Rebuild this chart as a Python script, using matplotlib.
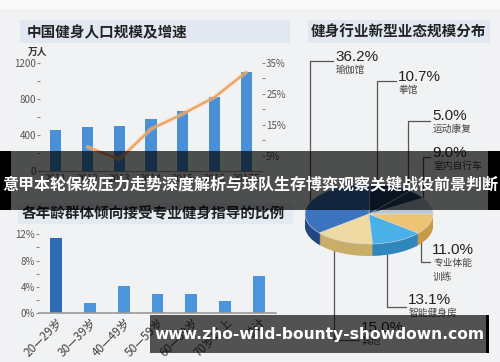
import matplotlib
matplotlib.use("Agg")
import matplotlib.pyplot as plt
import numpy as np
from matplotlib.patches import Rectangle
from matplotlib.ticker import FixedLocator

W, H = 500, 362
CJK = ['Noto Sans CJK SC', 'DejaVu Sans']
plt.rcParams['font.family'] = CJK

# ---------------- data ----------------
years = ['2011', '2012', '2013', '2014', '2015', '2016', '2017E']
population = [455, 485, 503, 574, 670, 826, 1100]          # 万人
growth_years = ['2012', '2013', '2014', '2015', '2016', '2017E']
growth = [7.8, 3.8, 13.6, 18.5, 23.9, 32.0]                # %

pie_labels = ['室内自行车', '运动康复', '拳馆', '瑜伽馆', '其他', '智能健身房', '专业体能\n训练']
pie_values = [9.0, 5.0, 10.7, 36.2, 15.0, 13.1, 11.0]

age_groups = ['20—29岁', '30—39岁', '40—49岁', '50—59岁', '60—69岁', '70岁以上', '总计']
age_share = [11.5, 1.5, 4.2, 2.9, 2.9, 1.8, 5.7]            # %

banner_text = '意甲本轮保级压力走势深度解析与球队生存博弈观察关键战役前景判断'
watermark = 'www.zho-wild-bounty-showdown.com'


def rect(x0, y0, x1, y1):
    return [x0 / W, 1 - y1 / H, (x1 - x0) / W, (y1 - y0) / H]


fig = plt.figure(figsize=(W / 100, H / 100), dpi=100)
fig.patch.set_facecolor('#f2f2f4')

# background / annotation layer
bg = fig.add_axes([0, 0, 1, 1])
bg.set_xlim(0, W)
bg.set_ylim(H, 0)
bg.axis('off')
bg.set_zorder(0)
bg.add_patch(Rectangle((0, 0), W, 9, color='#f9f9f9', lw=0))
bg.add_patch(Rectangle((10, 9), 480, 353, color='#f1f2f4', lw=0))
# title boxes
bg.add_patch(Rectangle((20, 20), 270, 23, color='#e1e8f1', lw=0))
bg.add_patch(Rectangle((308, 20), 182, 23, color='#e1e8f1', lw=0))
bg.add_patch(Rectangle((18, 203), 275, 21, color='#e4eaf2', lw=0))
bg.text(27, 32, '中国健身人口规模及增速', fontsize=10.5, fontweight='bold',
        color='#222222', va='center', ha='left')
bg.text(311, 32, '健身行业新型业态规模分布', fontsize=10.5, fontweight='bold',
        color='#222222', va='center', ha='left')
bg.text(22, 213, '各年龄群体倾向接受专业健身指导的比例', fontsize=10.5, fontweight='bold',
        color='#222222', va='center', ha='left')
bg.text(28, 52, '万人', fontsize=7, fontweight='bold', color='#333333', va='center')

# ---------------- top-left: population + growth ----------------
ax1 = fig.add_axes(rect(40, 63, 262, 171))
ax1.set_zorder(1)
ax1.patch.set_alpha(0)
x = np.arange(len(years))
ax1.bar(x, population, width=0.35, color='#4a90d6')
ax1.set_xlim(-0.5, len(years) - 0.5)
ax1.set_ylim(0, 1200)
for s in ['top', 'right', 'left']:
    ax1.spines[s].set_visible(False)
ax1.spines['bottom'].set_color('#9a9a9a')
ax1.set_yticks([0, 400, 800, 1200])
ax1.yaxis.set_minor_locator(FixedLocator([200, 600, 1000]))
ax1.tick_params(axis='y', which='both', length=2, width=0.8, color='#888888',
                labelsize=7, labelcolor='#555555', pad=1)
ax1.set_xticks(x)
ax1.set_xticklabels(years)
ax1.tick_params(axis='x', length=0, labelsize=7, labelcolor='#555555', pad=2)

ax1r = ax1.twinx()
ax1r.set_zorder(2)
gx = [years.index(g) for g in growth_years]
ax1r.plot(gx, growth, color='#f6c08a', lw=3.0, alpha=0.5, solid_capstyle='round')
ax1r.plot(gx, growth, color='#eda05a', lw=1.4)
ax1r.set_ylim(0, 35)
for s in ax1r.spines.values():
    s.set_visible(False)
ax1r.set_yticks([5, 15, 25, 35])
ax1r.set_yticklabels(['5%', '15%', '25%', '35%'])
ax1r.yaxis.set_minor_locator(FixedLocator([10, 20, 30]))
ax1r.tick_params(axis='y', which='both', length=2, width=0.8, color='#888888',
                 labelsize=7, labelcolor='#555555', pad=1)

# ---------------- bottom-left: age groups ----------------
ax2 = fig.add_axes(rect(39, 234.3, 276, 313.3))
ax2.set_zorder(1)
ax2.patch.set_alpha(0)
xa = np.arange(len(age_groups))
colors2 = ['#2f6cb5'] + ['#4a95dc'] * (len(age_groups) - 1)
ax2.bar(xa, age_share, width=0.35, color=colors2)
ax2.set_xlim(-0.5, len(age_groups) - 0.5)
ax2.set_ylim(0, 12)
for s in ['top', 'right', 'left']:
    ax2.spines[s].set_visible(False)
ax2.spines['bottom'].set_color('#9a9a9a')
ax2.spines['bottom'].set_linewidth(1.2)
ax2.set_yticks([0, 4, 8, 12])
ax2.set_yticklabels(['0%', '4%', '8%', '12%'])
ax2.yaxis.set_minor_locator(FixedLocator([2, 6, 10]))
ax2.tick_params(axis='y', which='both', length=2, width=0.8, color='#888888',
                labelsize=7, labelcolor='#555555', pad=1)
ax2.set_xticks(xa)
ax2.set_xticklabels(age_groups, rotation=45, ha='right', rotation_mode='anchor')
ax2.tick_params(axis='x', length=0, labelsize=8.5, labelcolor='#444444', pad=2)

# ---------------- right: 3D-like pie ----------------
top_cols = ['#b8c5d2', '#23476e', '#1f3f6e', '#3c74c0', '#efdaa3', '#4ab0e8', '#edc474']
side_cols = ['#8d9aa6', '#172f4a', '#142a4b', '#22467f', '#c9ad68', '#2f86bd', '#c99a48']
axp = fig.add_axes(rect(305, 184, 433, 256))
axp.set_zorder(1)
axp.patch.set_alpha(0)
depth = 0.4
for k in np.linspace(depth, 0.02, 14):
    axp.pie(pie_values, startangle=0, counterclock=True, colors=side_cols,
            center=(0, -k), radius=1, wedgeprops=dict(linewidth=0))
axp.pie(pie_values, startangle=0, counterclock=True, colors=top_cols,
        center=(0, 0), radius=1, wedgeprops=dict(linewidth=0.4, edgecolor='#d8dde3'))
axp.set_aspect('auto')
axp.set_xlim(-1, 1)
axp.set_ylim(-1 - depth, 1)
axp.axis('off')

# pie labels with leader lines (layout positions)
lab_pos = {
    '瑜伽馆': (335, 57, 310, 61, 210),
    '拳馆': (398, 77, 377, 81, 200),
    '运动康复': (432, 116, 408, 121, 205),
    '室内自行车': (432, 153, 423, 157, 210),
}
for name, (tx, ty, lx, ly, yend) in lab_pos.items():
    v = pie_values[pie_labels.index(name)]
    bg.text(tx, ty, f'{v:.1f}%', fontsize=11, color='#222222', va='center', ha='left',
            family=['Liberation Sans', 'DejaVu Sans'])
    bg.text(tx + 1, ty + 13, name, fontsize=7, color='#444444', va='center', ha='left')
    bg.plot([lx, lx, tx - 2], [yend, ly, ly], color='#555555', lw=0.9)

low_pos = {
    '专业体能\n训练': (432, 250, 421, 237, 262),
    '智能健身房': (408, 300, 387, 250, 307),
    '其他': (361, 328, 334, 245, 340),
}
for name, (tx, ty, lx, ystart, ly) in low_pos.items():
    v = pie_values[pie_labels.index(name)]
    bg.text(tx, ty, f'{v:.1f}%', fontsize=11, color='#222222', va='center', ha='left',
            family=['Liberation Sans', 'DejaVu Sans'])
    bg.text(tx + 1, ty + 8, name, fontsize=7, color='#444444', va='top', ha='left',
            linespacing=1.5)
    bg.plot([lx, lx, tx - 2], [ystart, ly, ly], color='#555555', lw=0.9)

# ---------------- overlays ----------------
ov = fig.add_axes([0, 0, 1, 1])
ov.set_xlim(0, W)
ov.set_ylim(H, 0)
ov.axis('off')
ov.set_zorder(10)
ov.patch.set_alpha(0)
ov.add_patch(Rectangle((0, 151), W, 59, color='black', alpha=0.68, lw=0))
ov.add_patch(Rectangle((0, 151), 11, 59, color='black', lw=0))
ov.add_patch(Rectangle((488, 151), 12, 59, color='black', lw=0))
ov.text(250, 184, banner_text, fontsize=11.5, fontweight='bold', color='white',
        ha='center', va='center')
ov.add_patch(Rectangle((150, 315), 338, 38, color='black', alpha=0.66, lw=0))
ov.add_patch(Rectangle((486, 315), 3, 38, color='black', lw=0))
ov.text(320, 334, watermark, fontsize=11.2, fontweight='bold', color='white',
        ha='center', va='center', family=['DejaVu Sans'])

fig.savefig('out.png', dpi=100, facecolor=fig.get_facecolor())
